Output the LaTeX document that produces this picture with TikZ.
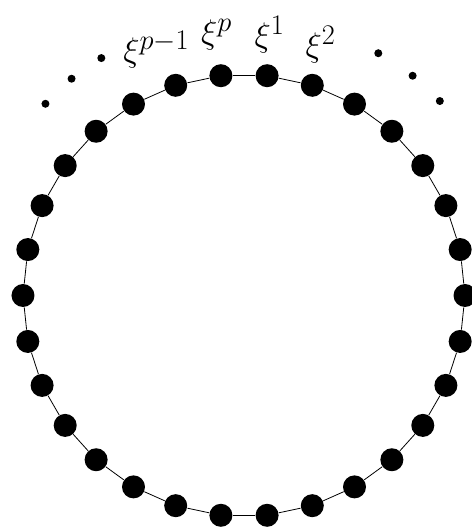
\documentclass[tikz,border=0pt]{standalone}
\usepackage{graphicx}
\newcommand{\lbl}[1]{\scalebox{1.37}{$#1$}}
\tikzset{
  vert/.style={circle,fill=black,inner sep=0pt,minimum size=23pt},
  ell/.style={circle,fill=black,inner sep=0pt,minimum size=8pt},
  lab/.style={font=\fontsize{24.88}{30}\selectfont}
}
\begin{document}
\begin{tikzpicture}[x=1pt,y=1pt,line width=0.8pt]
	\useasboundingbox (-244,-233.5) rectangle (227,295.5);
	% the p points on the circle
	\foreach \i in {1,...,30}
		\node[vert] (v\i) at ({84-12*(\i-1)}:221) {};
	\foreach \i [evaluate=\i as \j using {int(mod(\i,30)+1)}] in {1,...,30}
		\draw (v\i) -- (v\j);
	% dots
	\node[ell] (e1) at (121:277) {};
	\node[ell] (e2) at (128.5:277) {};
	\node[ell] (e3) at (136:276) {};
	\node[ell] (e4) at (61:277) {};
	\node[ell] (e5) at (52.5:277) {};
	\node[ell] (e6) at (44.8:276) {};
	% labels
	\node[lab] (l1) at (84.4:262) {\lbl{\xi^1}};
	\node[lab] (l2) at (73:262) {\lbl{\xi^2}};
	\node[lab] (lp) at (96:262) {\lbl{\xi^p}};
	\node[lab] (lq) at (109.6:261) {\lbl{\xi^{p-1}}};
\end{tikzpicture}
\end{document}
